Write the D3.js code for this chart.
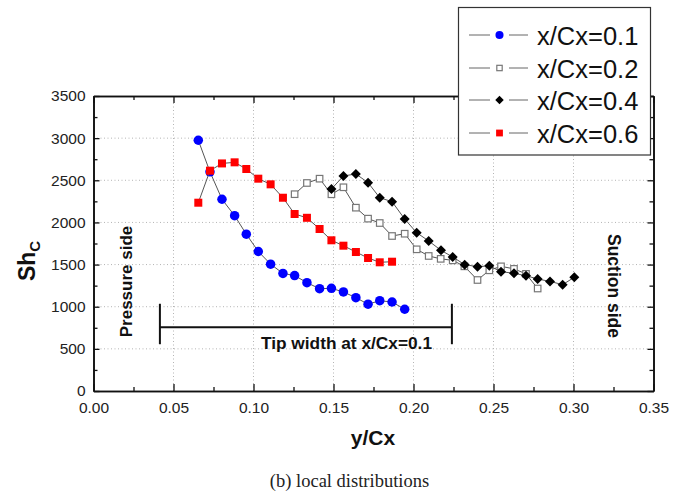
<!DOCTYPE html>
<html>
<head>
<meta charset="utf-8">
<script src="https://cdn.jsdelivr.net/npm/d3@7"></script>
<style>
  html, body { margin: 0; padding: 0; background: #fff; }
  svg { display: block; font-family: "Liberation Sans", Arial, sans-serif; }
</style>
</head>
<body>
<svg id="chart" width="685" height="497"></svg>
<script>
// Local Sherwood number distributions across the tip, y/Cx on the horizontal axis
const seriesNames = ["x/Cx=0.1", "x/Cx=0.2", "x/Cx=0.4", "x/Cx=0.6"];

const xBlue = [0.0655,0.0728,0.0803,0.0882,0.0955,0.1030,0.1107,0.1184,0.1257,0.1334,0.1413,0.1487,0.1562,0.1640,0.1716,0.1789,0.1866,0.1945];
const yBlue = [2975,2600,2275,2080,1860,1655,1505,1395,1370,1285,1214,1218,1175,1107,1030,1071,1056,970];

const xGray = [0.1257,0.1334,0.1413,0.1487,0.1562,0.1640,0.1716,0.1789,0.1866,0.1945,0.2020,0.2095,0.2170,0.2245,0.2318,0.2400,0.2474,0.2547,0.2628,0.2703,0.2776];
const yGray = [2335,2468,2519,2334,2417,2175,2045,1993,1839,1866,1681,1602,1568,1550,1479,1317,1432,1479,1449,1390,1216];

const xBlack = [0.1487,0.1562,0.1640,0.1716,0.1789,0.1866,0.1945,0.2020,0.2095,0.2172,0.2245,0.2320,0.2400,0.2474,0.2547,0.2628,0.2703,0.2776,0.2853,0.2932,0.3005];
const yBlack = [2396,2551,2575,2472,2293,2246,2040,1878,1780,1669,1590,1499,1475,1485,1416,1396,1368,1329,1300,1262,1349];

const xRed = [0.0655,0.0728,0.0803,0.0882,0.0955,0.1030,0.1107,0.1184,0.1257,0.1334,0.1413,0.1487,0.1562,0.1640,0.1716,0.1789,0.1866];
const yRed = [2234,2614,2700,2713,2634,2519,2452,2293,2100,2055,1922,1788,1724,1649,1578,1527,1534];

const xTicks = [0.00,0.05,0.10,0.15,0.20,0.25,0.30,0.35];
const yTicks = [0,500,1000,1500,2000,2500,3000,3500];

// Tip width bracket at x/Cx=0.1 (span in y/Cx, height in Sh units)
const tipSpan = [0.0415, 0.224];
const tipLevel = 755;
const tipHalfBar = 200;

const svg = d3.select("#chart");
const x = d3.scaleLinear().domain([0, 0.35]).range([93.5, 653.5]);
const y = d3.scaleLinear().domain([0, 3500]).range([391, 96]);

// dotted grid
const grid = svg.append("g").attr("stroke", "#b4b4b4").attr("stroke-width", 1).attr("stroke-dasharray", "1,2.5");
grid.selectAll("line.gx").data(xTicks.slice(1, -1)).join("line")
  .attr("x1", d => x(d)).attr("x2", d => x(d)).attr("y1", y(0)).attr("y2", y(3500));
grid.selectAll("line.gy").data(yTicks.slice(1, -1)).join("line")
  .attr("x1", x(0)).attr("x2", x(0.35)).attr("y1", d => y(d)).attr("y2", d => y(d));

// axes, ticks pointing inward
const minorX = d3.range(0.025, 0.35, 0.05);
const minorY = d3.range(250, 3500, 500);
const fmtX = d3.format(".2f");
const fmtY = d3.format("d");

function styleAxis(g) {
  g.selectAll("path.domain").attr("stroke", "#111").attr("stroke-width", 1.6);
  g.selectAll(".tick line").attr("stroke", "#111").attr("stroke-width", 1.3);
  g.selectAll(".tick text").attr("fill", "#222").attr("font-size", 15.5)
    .attr("font-family", "'Liberation Sans', Arial, sans-serif");
}

svg.append("g").attr("transform", `translate(0,${y(0)})`)
  .call(d3.axisBottom(x).tickValues(xTicks).tickFormat(fmtX).tickSize(-7).tickSizeOuter(0).tickPadding(11))
  .call(styleAxis);
svg.append("g").attr("transform", `translate(0,${y(0)})`)
  .call(d3.axisBottom(x).tickValues(minorX).tickFormat("").tickSize(-4).tickSizeOuter(0))
  .call(styleAxis);
svg.append("g").attr("transform", `translate(0,${y(3500)})`)
  .call(d3.axisTop(x).tickValues(xTicks).tickFormat("").tickSize(-7).tickSizeOuter(0))
  .call(styleAxis);
svg.append("g").attr("transform", `translate(0,${y(3500)})`)
  .call(d3.axisTop(x).tickValues(minorX).tickFormat("").tickSize(-4).tickSizeOuter(0))
  .call(styleAxis);
svg.append("g").attr("transform", `translate(${x(0)},0)`)
  .call(d3.axisLeft(y).tickValues(yTicks).tickFormat(fmtY).tickSize(-6).tickSizeOuter(0).tickPadding(8))
  .call(styleAxis);
svg.append("g").attr("transform", `translate(${x(0)},0)`)
  .call(d3.axisLeft(y).tickValues(minorY).tickFormat("").tickSize(-4).tickSizeOuter(0))
  .call(styleAxis);
svg.append("g").attr("transform", `translate(${x(0.35)},0)`)
  .call(d3.axisRight(y).tickValues(yTicks).tickFormat("").tickSize(-6).tickSizeOuter(0))
  .call(styleAxis);
svg.append("g").attr("transform", `translate(${x(0.35)},0)`)
  .call(d3.axisRight(y).tickValues(minorY).tickFormat("").tickSize(-4).tickSizeOuter(0))
  .call(styleAxis);

// tip width bracket
const br = svg.append("g").attr("stroke", "#111").attr("stroke-width", 2);
br.append("line").attr("x1", x(tipSpan[0])).attr("x2", x(tipSpan[1])).attr("y1", y(tipLevel)).attr("y2", y(tipLevel));
tipSpan.forEach(v => br.append("line").attr("x1", x(v)).attr("x2", x(v))
  .attr("y1", y(tipLevel + 1.4 * tipHalfBar)).attr("y2", y(tipLevel - tipHalfBar)));
svg.append("text").attr("x", 346.5).attr("y", 348.5).attr("text-anchor", "middle")
  .attr("font-weight", "bold").attr("font-size", 17.3).attr("fill", "#111")
  .text("Tip width at x/Cx=0.1");

// side annotations
svg.append("text").attr("transform", "translate(132,281.5) rotate(-90)").attr("text-anchor", "middle")
  .attr("font-weight", "bold").attr("font-size", 17).attr("fill", "#111").text("Pressure side");
svg.append("text").attr("transform", "translate(608,286) rotate(90)").attr("text-anchor", "middle")
  .attr("font-weight", "bold").attr("font-size", 17.5).attr("fill", "#111").text("Suction side");

// series
const line = d3.line().x(d => x(d[0])).y(d => y(d[1]));
const zip = (xs, ys) => xs.map((v, i) => [v, ys[i]]);

const series = [
  { name: seriesNames[0], pts: zip(xBlue, yBlue), marker: "circle", fill: "#0000ff", stroke: "none", size: 9.5 },
  { name: seriesNames[1], pts: zip(xGray, yGray), marker: "square", fill: "#fff", stroke: "#777", size: 7.5 },
  { name: seriesNames[2], pts: zip(xBlack, yBlack), marker: "diamond", fill: "#000", stroke: "none", size: 10 },
  { name: seriesNames[3], pts: zip(xRed, yRed), marker: "square", fill: "#ff0000", stroke: "none", size: 8 }
];

function drawMarker(g, s, cx, cy, scale) {
  const r = s.size * scale / 2;
  if (s.marker === "circle") {
    g.append("circle").attr("cx", cx).attr("cy", cy).attr("r", r).attr("fill", s.fill);
  } else if (s.marker === "square") {
    const inset = s.stroke === "none" ? 0 : 0.5;
    g.append("rect").attr("x", cx - r + inset).attr("y", cy - r + inset)
      .attr("width", 2 * (r - inset)).attr("height", 2 * (r - inset))
      .attr("fill", s.fill).attr("stroke", s.stroke).attr("stroke-width", s.stroke === "none" ? 0 : 1.2);
  } else {
    g.append("path").attr("d", `M${cx},${cy - r}L${cx + r},${cy}L${cx},${cy + r}L${cx - r},${cy}Z`).attr("fill", s.fill);
  }
}

series.forEach(s => {
  const g = svg.append("g");
  g.append("path").attr("d", line(s.pts)).attr("fill", "none").attr("stroke", "#555").attr("stroke-width", 1);
  s.pts.forEach(p => drawMarker(g, s, x(p[0]), y(p[1]), 1));
});

// axis titles
const yl = svg.append("text").attr("transform", "translate(35,261) rotate(-90)").attr("text-anchor", "middle")
  .attr("font-weight", "bold").attr("font-size", 23).attr("fill", "#111");
yl.append("tspan").text("Sh");
yl.append("tspan").attr("font-size", 15).attr("dy", 5).text("C");

svg.append("text").attr("x", 373).attr("y", 445).attr("text-anchor", "middle")
  .attr("font-weight", "bold").attr("font-size", 21).attr("fill", "#111").text("y/Cx");

svg.append("text").attr("x", 349.5).attr("y", 487).attr("text-anchor", "middle")
  .attr("font-family", "'Liberation Serif', 'Times New Roman', serif").attr("font-size", 18.5).attr("fill", "#222")
  .text("(b) local distributions");

// legend
const lg = svg.append("g");
lg.append("rect").attr("x", 458.5).attr("y", 7.5).attr("width", 192).attr("height", 147.5)
  .attr("fill", "#fff").attr("stroke", "#333").attr("stroke-width", 1.2);
const rowY = [35, 68, 100, 133];
series.forEach((s, i) => {
  const cy = rowY[i];
  lg.append("line").attr("x1", 469).attr("x2", 490).attr("y1", cy).attr("y2", cy).attr("stroke", "#666").attr("stroke-width", 1);
  lg.append("line").attr("x1", 509).attr("x2", 528).attr("y1", cy).attr("y2", cy).attr("stroke", "#666").attr("stroke-width", 1);
  drawMarker(lg, s, 499.5, cy, 0.85);
  lg.append("text").attr("x", 537).attr("y", cy + 9.5).attr("font-size", 25.5).attr("fill", "#111").text(s.name);
});
</script>
</body>
</html>
